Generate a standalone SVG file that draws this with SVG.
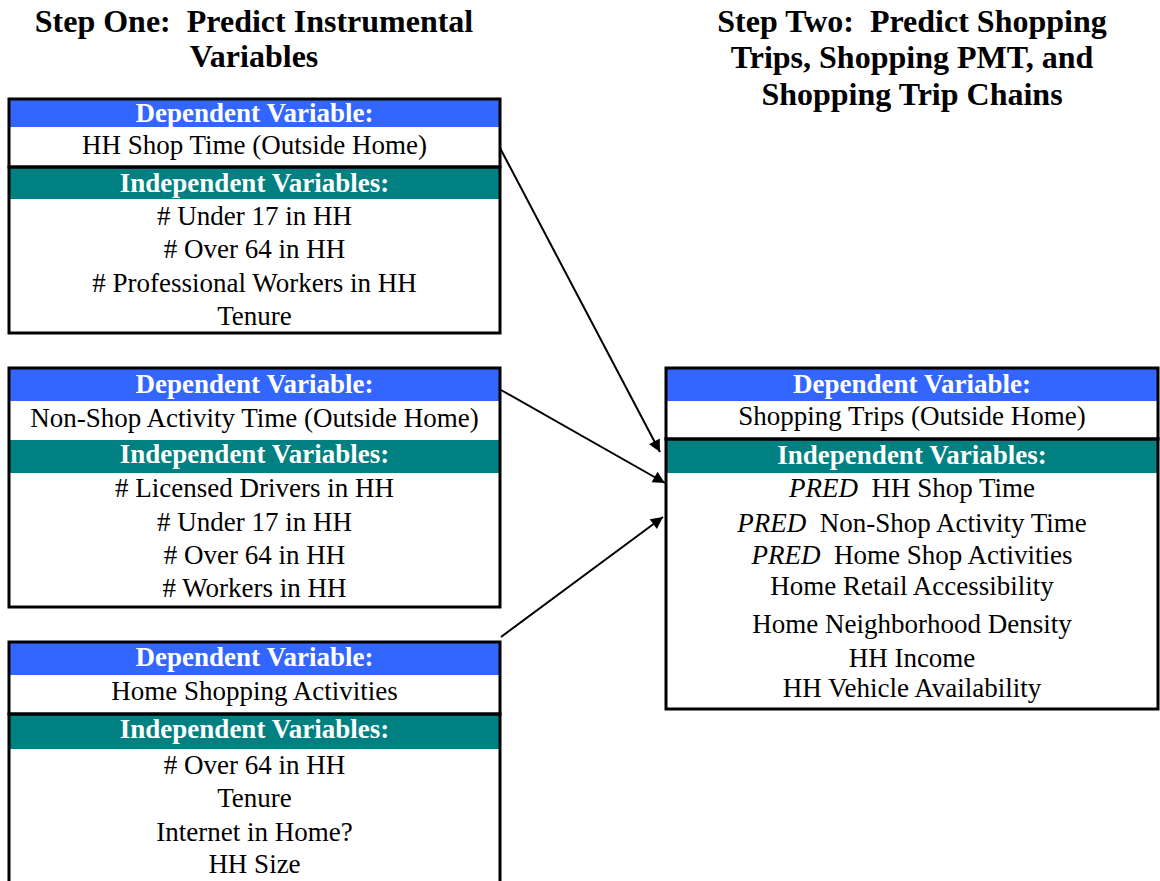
<svg xmlns="http://www.w3.org/2000/svg" width="1160" height="881" viewBox="0 0 1160 881" xml:space="preserve">
<style>
text{white-space:pre}
.title{font-family:"Liberation Serif","Times New Roman",serif;font-weight:bold;font-size:32px;fill:#000;text-anchor:middle}
.hd{font-family:"Liberation Serif","Times New Roman",serif;font-weight:bold;font-size:27px;fill:#fff;text-anchor:middle}
.tx{font-family:"Liberation Serif","Times New Roman",serif;font-size:27px;fill:#000;text-anchor:middle}
.blue{fill:#3366FF}
.teal{fill:#008080}
.frame{fill:none;stroke:#000;stroke-width:3}
.conn{stroke:#000;stroke-width:2;fill:none}
</style>
<defs>
<marker id="ah" viewBox="0 0 10 10" refX="10" refY="5" markerWidth="7.5" markerHeight="6" orient="auto" markerUnits="strokeWidth">
<path d="M0,0 L10,5 L0,10 z" fill="#000"/>
</marker>
</defs>
<rect width="1160" height="881" fill="#fff"/>
<g id="titles">
<text class="title" x="254" y="32">Step One:  Predict Instrumental</text>
<text class="title" x="254" y="67">Variables</text>
<text class="title" x="912" y="32">Step Two:  Predict Shopping</text>
<text class="title" x="912" y="68">Trips, Shopping PMT, and</text>
<text class="title" x="912" y="105">Shopping Trip Chains</text>
</g>
<g id="box1">
<rect class="blue" x="9" y="99" width="491" height="28"/>
<rect class="teal" x="9" y="168" width="491" height="31"/>
<rect class="frame" x="9" y="99" width="491" height="68"/>
<rect class="frame" x="9" y="167" width="491" height="166"/>
<text class="hd" x="254.5" y="122">Dependent Variable:</text>
<text class="tx" x="254.5" y="154">HH Shop Time (Outside Home)</text>
<text class="hd" x="254.5" y="192">Independent Variables:</text>
<text class="tx" x="254.5" y="225"># Under 17 in HH</text>
<text class="tx" x="254.5" y="258"># Over 64 in HH</text>
<text class="tx" x="254.5" y="292"># Professional Workers in HH</text>
<text class="tx" x="254.5" y="325">Tenure</text>
</g>
<g id="box2">
<rect class="blue" x="9" y="368" width="491" height="33"/>
<rect class="teal" x="9" y="440" width="491" height="33"/>
<rect class="frame" x="9" y="368" width="491" height="239"/>
<text class="hd" x="254.5" y="393">Dependent Variable:</text>
<text class="tx" x="254.5" y="427">Non-Shop Activity Time (Outside Home)</text>
<text class="hd" x="254.5" y="463">Independent Variables:</text>
<text class="tx" x="254.5" y="497"># Licensed Drivers in HH</text>
<text class="tx" x="254.5" y="531"># Under 17 in HH</text>
<text class="tx" x="254.5" y="564"># Over 64 in HH</text>
<text class="tx" x="254.5" y="597"># Workers in HH</text>
</g>
<g id="box3">
<rect class="blue" x="9" y="642" width="491" height="33"/>
<rect class="teal" x="9" y="715" width="491" height="34"/>
<rect class="frame" x="9" y="642" width="491" height="72"/>
<rect class="frame" x="9" y="714" width="491" height="180"/>
<text class="hd" x="254.5" y="666">Dependent Variable:</text>
<text class="tx" x="254.5" y="700">Home Shopping Activities</text>
<text class="hd" x="254.5" y="738">Independent Variables:</text>
<text class="tx" x="254.5" y="774"># Over 64 in HH</text>
<text class="tx" x="254.5" y="807">Tenure</text>
<text class="tx" x="254.5" y="841">Internet in Home?</text>
<text class="tx" x="254.5" y="873">HH Size</text>
</g>
<g id="box4">
<rect class="blue" x="666" y="368" width="492" height="33"/>
<rect class="teal" x="666" y="440" width="492" height="33"/>
<rect class="frame" x="666" y="368" width="492" height="71"/>
<rect class="frame" x="666" y="439" width="492" height="270"/>
<text class="hd" x="912" y="393">Dependent Variable:</text>
<text class="tx" x="912" y="425">Shopping Trips (Outside Home)</text>
<text class="hd" x="912" y="464">Independent Variables:</text>
<text class="tx" x="912" y="497"><tspan font-style="italic">PRED</tspan>  HH Shop Time</text>
<text class="tx" x="912" y="532"><tspan font-style="italic">PRED</tspan>  Non-Shop Activity Time</text>
<text class="tx" x="912" y="564"><tspan font-style="italic">PRED</tspan>  Home Shop Activities</text>
<text class="tx" x="912" y="595">Home Retail Accessibility</text>
<text class="tx" x="912" y="633">Home Neighborhood Density</text>
<text class="tx" x="912" y="667">HH Income</text>
<text class="tx" x="912" y="697">HH Vehicle Availability</text>
</g>
<g id="connectors">
<line class="conn" x1="500" y1="148" x2="660" y2="452" marker-end="url(#ah)"/>
<line class="conn" x1="501" y1="390" x2="665" y2="483" marker-end="url(#ah)"/>
<line class="conn" x1="501" y1="637" x2="663" y2="517" marker-end="url(#ah)"/>
</g>
</svg>
